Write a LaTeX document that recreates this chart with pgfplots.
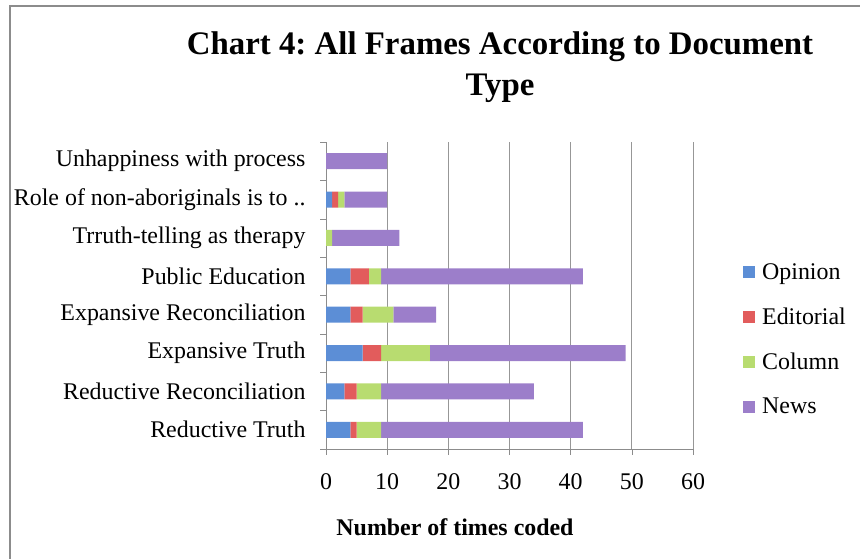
\documentclass[border=0pt]{standalone}
\usepackage{fontspec}
\setmainfont{Liberation Serif}
\usepackage{pgfplots}
\pgfplotsset{compat=1.18}

\definecolor{opinion}{RGB}{92,142,214}
\definecolor{editorial}{RGB}{226,92,92}
\definecolor{column}{RGB}{184,220,112}
\definecolor{news}{RGB}{156,126,202}
\definecolor{frame}{RGB}{140,140,140}

\begin{document}
\frenchspacing
\begin{tikzpicture}[x=1bp,y=1bp]
\useasboundingbox (0,0) rectangle (860,559);
% outer chart frame (only left and top edges are visible)
\draw[frame, line width=2bp] (10,-5) -- (10,552.5) -- (870,552.5);

% title
\node[font=\fontsize{33}{33}\selectfont\bfseries] at (500,512) {Chart 4: All Frames According to Document};
\node[font=\fontsize{33}{33}\selectfont\bfseries] at (500,471) {Type};

\begin{axis}[
  at={(326bp,110bp)}, anchor=south west,
  scale only axis, width=367bp, height=307bp,
  xbar stacked, bar width=16bp,
  xmin=0, xmax=60, ymin=-0.5, ymax=7.5,
  xtick={0,10,...,60},
  minor xtick={0,10,...,60},
  ytick={0,...,7},
  yticklabels={Reductive Truth, Reductive Reconciliation, Expansive Truth,
    Expansive Reconciliation, Public Education, Trruth-telling as therapy,
    Role of non-aboriginals is to .., Unhappiness with process},
  minor ytick={-0.5,0.5,...,7.5},
  axis lines*=left,
  axis line style={draw=frame},
  tick align=outside,
  major tick length=0bp, minor tick length=6bp,
  every tick/.style={draw=frame},
  xmajorgrids, grid style={draw=frame!90, line width=0.8pt},
  tick label style={font=\fontsize{24}{24}\selectfont},
  /pgf/number format/assume math mode=true,
  yticklabel style={xshift=-17bp},
  xticklabel style={yshift=-21bp},
  legend style={at={(1.128,0.357)}, anchor=west, draw=none, fill=none,
    font=\fontsize{24}{24}\selectfont, row sep=23bp,
    /tikz/every odd column/.append style={column sep=5bp}},
  legend cell align=left,
  legend image code/.code={\path[#1, draw=none] (0bp,-6bp) rectangle (12bp,6bp);},
]
\addplot[draw=none, fill=opinion] coordinates
  {(4,0) (3,1) (6,2) (4,3) (4,4) (0,5) (1,6) (0,7)};
\addlegendentry{Opinion}
\addplot[draw=none, fill=editorial] coordinates
  {(1,0) (2,1) (3,2) (2,3) (3,4) (0,5) (1,6) (0,7)};
\addlegendentry{Editorial}
\addplot[draw=none, fill=column] coordinates
  {(4,0) (4,1) (8,2) (5,3) (2,4) (1,5) (1,6) (0,7)};
\addlegendentry{Column}
\addplot[draw=none, fill=news] coordinates
  {(33,0) (25,1) (32,2) (7,3) (33,4) (11,5) (7,6) (10,7)};
\addlegendentry{News}
\end{axis}

\node[font=\fontsize{24}{24}\selectfont\bfseries] at (455,32) {Number of times coded};
\end{tikzpicture}
\end{document}
